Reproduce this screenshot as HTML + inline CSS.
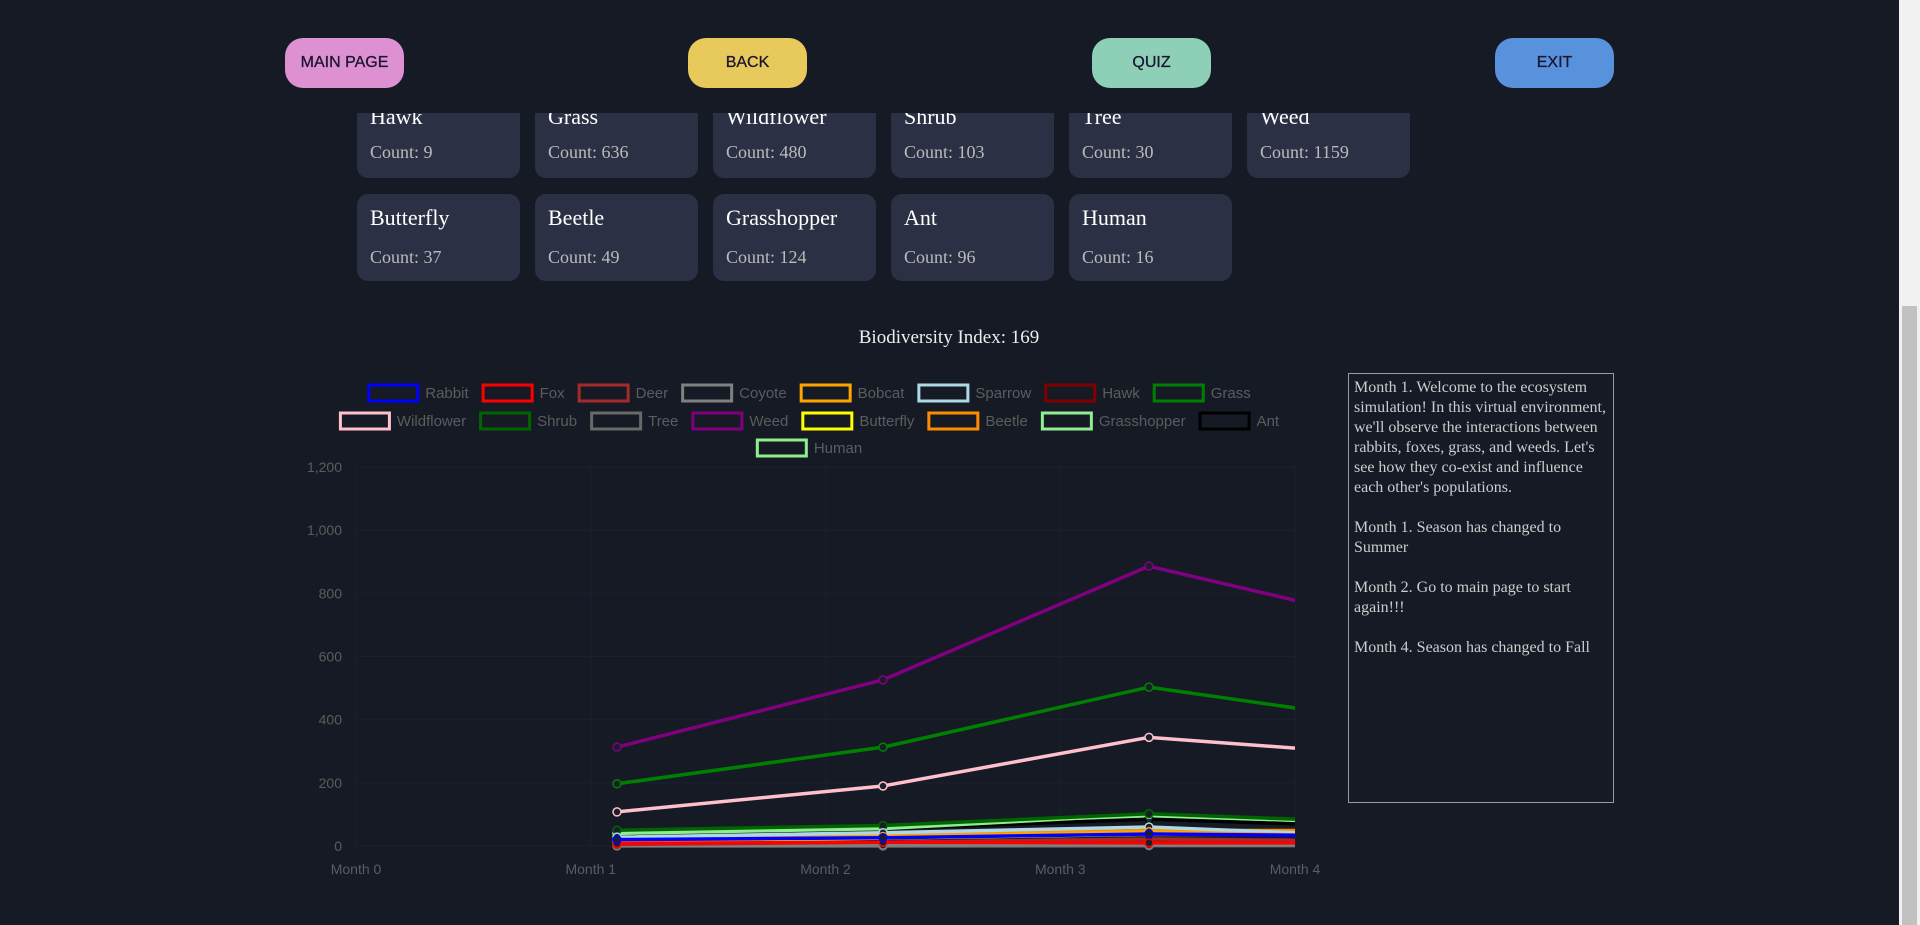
<!DOCTYPE html>
<html><head><meta charset="utf-8"><style>
body{margin:0;width:1920px;height:925px;background:#161a25;overflow:hidden;position:relative;font-family:"Liberation Serif",serif}
.btn{position:absolute;top:38px;width:119px;height:50px;border-radius:18px;border:none;font-family:"Liberation Sans",sans-serif;font-size:16px;color:#1c1430;display:flex;align-items:center;justify-content:center;-webkit-text-stroke:0.3px #1c1430}
.card{position:absolute;width:163px;background:#2c3044;border-radius:11px;color:#fff;font-family:"Liberation Serif",serif}
.card .t{position:absolute;left:13px;font-size:22px;font-family:"Liberation Serif",serif}
.card .c{position:absolute;left:13px;font-size:18px;color:#bbb;font-family:"Liberation Serif",serif}
#hdr{position:absolute;left:0;top:0;width:1898px;height:113px;background:#161a25;z-index:2}
.btn{z-index:3}
#ta{position:absolute;left:1348px;top:373px;width:254px;height:420px;border:1px solid #9a9a9a;color:#ccc;font-size:16px;line-height:20px;padding:4px 5px;white-space:pre-wrap;font-family:"Liberation Serif",serif}
#sb{position:absolute;left:1899px;top:0;width:21px;height:925px;background:#f1f1f1}
#th{position:absolute;left:1902px;top:306px;width:15px;height:619px;background:#c1c1c1}
</style></head><body>
<div id="hdr"></div>
<button class="btn" style="left:285px;background:#dd91d3">MAIN PAGE</button>
<button class="btn" style="left:688px;background:#e8c95c">BACK</button>
<button class="btn" style="left:1092px;background:#8ecfb7">QUIZ</button>
<button class="btn" style="left:1495px;background:#5891dc">EXIT</button>
<div id="cards"></div>
<div style="position:absolute;left:0;width:1898px;top:327px;color:#eee;font-size:19px"><span style="position:absolute;left:949px;transform:translateX(-50%);white-space:nowrap">Biodiversity Index: 169</span></div>
<svg id="chart" width="1920" height="925" style="position:absolute;left:0;top:0"></svg>
<div id="ta">Month 1. Welcome to the ecosystem simulation! In this virtual environment, we'll observe the interactions between rabbits, foxes, grass, and weeds. Let's see how they co-exist and influence each other's populations.

Month 1. Season has changed to Summer

Month 2. Go to main page to start again!!!

Month 4. Season has changed to Fall</div>
<div id="sb"><div id="th" style="left:3px"></div></div>
<script>
const cardNames=["Hawk","Grass","Wildflower","Shrub","Tree","Weed","Butterfly","Beetle","Grasshopper","Ant","Human"];
const cardCounts=[9,636,480,103,30,1159,37,49,124,96,16];
const cards=document.getElementById('cards');
cardNames.forEach((n,i)=>{
  const r=i<6?0:1, c=i<6?i:i-6;
  const d=document.createElement('div');
  d.className='card';
  
  
  d.style.left=(357+c*178)+'px';
  if(r==0){d.style.top='100px';d.style.height='78px';}else{d.style.top='194px';d.style.height='87px';}
  const tTop=r==0?4:11, cTop=r==0?42:53;
  d.innerHTML='<div class="t" style="top:'+tTop+'px">'+n+'</div><div class="c" style="top:'+cTop+'px">Count: '+cardCounts[i]+'</div>';
  cards.appendChild(d);
});
const series=["Rabbit","Fox","Deer","Coyote","Bobcat","Sparrow","Hawk","Grass","Wildflower","Shrub","Tree","Weed","Butterfly","Beetle","Grasshopper","Ant","Human"];
const colors=["#0000ff","#ff0000","#a52a2a","#808080","#ffa500","#add8e6","#800000","#008000","#ffc0cb","#006400","#696969","#800080","#ffff00","#ff8c00","#90ee90","#000000","#90ee90"];
const vRabbit=[20,26,38,31],vFox=[8,12,10,10],vDeer=[5,12,22,15],vCoyote=[2,3,3,3],vBobcat=[12,30,45,27],vSparrow=[28,42,60,27],vHawk=[4,6,9,9],vGrass=[197,313,503,383],vWildflower=[108,190,344,282],vShrub=[50,65,102,71],vTree=[0,0,1,1],vWeed=[313,526,886,689],vButterfly=[15,25,37,37],vBeetle=[20,35,49,49],vGrasshopper=[40,55,100,71],vAnt=[35,55,85,58],vHuman=[42,58,95,68];
const values=[vRabbit,vFox,vDeer,vCoyote,vBobcat,vSparrow,vHawk,vGrass,vWildflower,vShrub,vTree,vWeed,vButterfly,vBeetle,vGrasshopper,vAnt,vHuman];
const xLabels=["Month 0","Month 1","Month 2","Month 3","Month 4"];
const yTicks=[0,200,400,600,800,1000,1200];
const NS='http://www.w3.org/2000/svg', svg=document.getElementById('chart');
const L=356,R=1295,T=467,B=846;
const y=v=>B-(v/1200)*(B-T);
const xl=i=>L+i*(R-L)/4;
const xp=i=>617+i*266;
function el(t,a){const e=document.createElementNS(NS,t);for(const k in a)e.setAttribute(k,a[k]);svg.appendChild(e);return e;}
yTicks.forEach(v=>{
  const g=el('line',{x1:L,x2:R,y1:y(v),y2:y(v),stroke:'#1c202c','stroke-width':1});
  
  
  const t=el('text',{x:342,y:y(v)+5,'text-anchor':'end',fill:'#5c5c5c','font-size':14,'font-family':'Liberation Sans, sans-serif'});
  t.textContent=v.toLocaleString('en-US');
  
  
});
xLabels.forEach((s,i)=>{
  const g=el('line',{x1:xl(i),x2:xl(i),y1:T,y2:B,stroke:'#1c202c','stroke-width':1});
  
  
  const t=el('text',{x:xl(i),y:874,'text-anchor':'middle',fill:'#5c5c5c','font-size':14,'font-family':'Liberation Sans, sans-serif'});
  t.textContent=s;
  
  
});
const cp=el('clipPath',{id:'cp'});cp.appendChild(el('rect',{x:L,y:T-5,width:R-L,height:B-T+10}));
const order=[...series.keys()].reverse();
order.forEach(k=>{
  const vs=values[k];
  const p=el('polyline',{points:vs.map((v,i)=>xp(i)+','+y(v)).join(' '),fill:'none',stroke:colors[k],'stroke-width':3.5,'clip-path':'url(#cp)'});
  
  
  vs.forEach((v,i)=>{
    const c=el('circle',{cx:xp(i),cy:y(v),r:4,fill:'#1a1e2a',stroke:colors[k],'stroke-width':1.5,'clip-path':'url(#cp)'});
    
    
  });
});
const rows=[series.slice(0,8),series.slice(8,16),series.slice(16)];
const rowY=[393,421,448];
const ctx=document.createElement('canvas').getContext('2d');ctx.font='15px "Liberation Sans"';
let idx=0;
rows.forEach((row,r)=>{
  const widths=row.map(n=>52+6+ctx.measureText(n).width+13);
  const tot=widths.reduce((a,b)=>a+b,0)-13;
  let x=809-tot/2;
  row.forEach((n,j)=>{
    const k=idx++;
    const b=el('rect',{x:x+1.5,y:rowY[r]-8,width:49,height:16,fill:'none',stroke:colors[k],'stroke-width':3});
    
    
    const t=el('text',{x:x+58,y:rowY[r]+5,fill:'#5c5c5c','font-size':15,'font-family':'Liberation Sans, sans-serif'});
    t.textContent=n;
    
    
    x+=widths[j];
  });
});
</script>
</body></html>
